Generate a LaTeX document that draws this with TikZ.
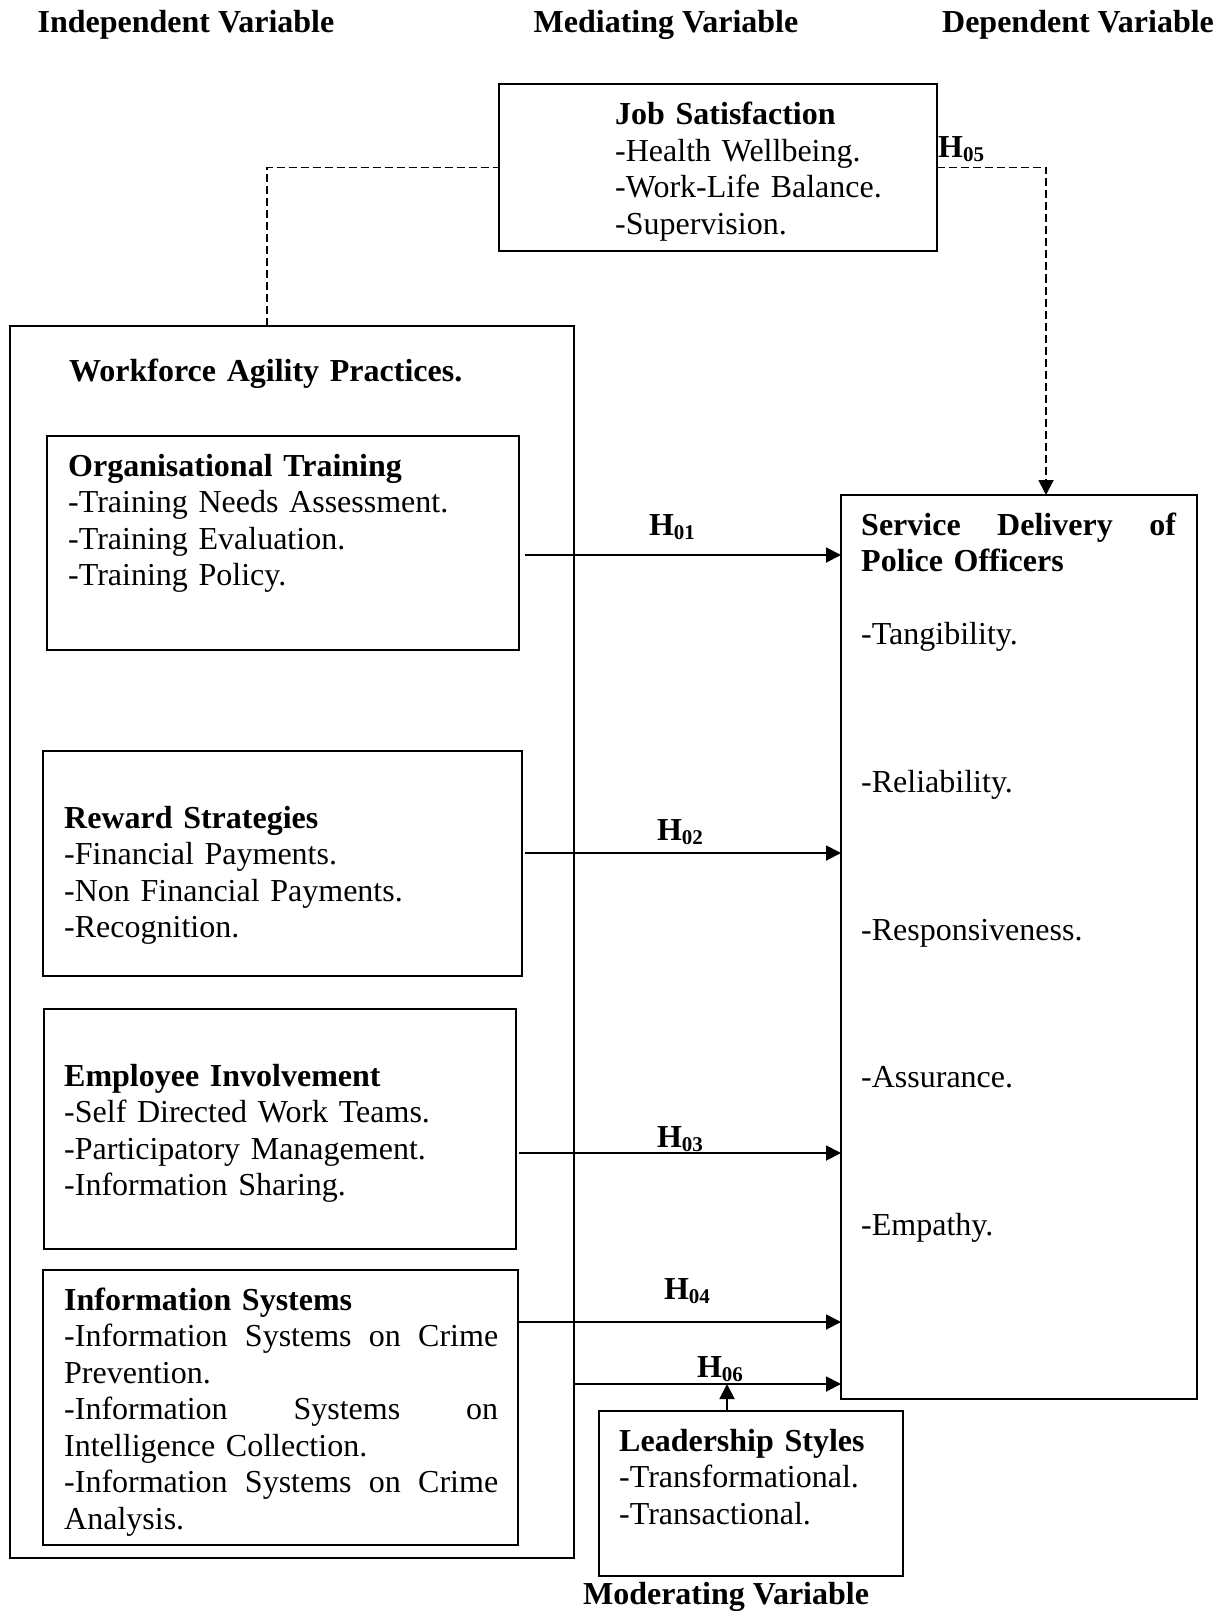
\documentclass[tikz,border=0pt]{standalone}
\usepackage{fontspec}
\setmainfont{Liberation Serif}
\usetikzlibrary{arrows.meta}

\newcommand{\hyp}[1]{\textbf{H\raisebox{-4pt}{\fontsize{21}{21}\selectfont #1}}}
\newcommand{\jline}[2]{\makebox[#1][s]{\spaceskip=0pt plus 1fil\relax #2}}

\begin{document}
\begin{tikzpicture}[x=1pt,y=-1pt,
  box/.style={draw,line width=1.7pt,anchor=north west,inner sep=0pt,outer sep=0pt},
  txt/.style={anchor=base west,inner sep=0pt,text width=440pt,font=\fontsize{32}{36.5}\selectfont},
  head/.style={anchor=base,inner sep=0pt,font=\fontsize{32}{36.5}\selectfont\bfseries},
  hlab/.style={anchor=base,inner sep=0pt,font=\fontsize{32}{36.5}\selectfont},
  arr/.style={line width=1.9pt,-{Triangle[length=15pt,width=15pt]}},
  dashln/.style={line width=1.9pt,dash pattern=on 8pt off 4pt}]
\useasboundingbox (0,0) rectangle (1225,1613);

% column headings
\node[head] (hInd) at (186,33) {Independent Variable};
\node[head] (hMed) at (666,33) {Mediating Variable};
\node[head] (hDep) at (1078,33) {Dependent Variable};
\node[head] (hMod) at (726,1604) {Moderating Variable};

% boxes
\node[box,minimum width=438pt,minimum height=167pt] (js) at (499,84) {};
\node[box,minimum width=564pt,minimum height=1232pt] (wap) at (10,326) {};
\node[box,minimum width=472pt,minimum height=214pt] (org) at (47,436) {};
\node[box,minimum width=479pt,minimum height=225pt] (rew) at (43,751) {};
\node[box,minimum width=472pt,minimum height=240pt] (emp) at (44,1009) {};
\node[box,minimum width=475pt,minimum height=275pt] (inf) at (43,1270) {};
\node[box,minimum width=356pt,minimum height=904pt] (sdp) at (841,495) {};
\node[box,minimum width=304pt,minimum height=165pt] (lead) at (599,1411) {};

% texts
\node[txt] (jsT) at (615,125) {\textbf{Job Satisfaction}\\-Health Wellbeing.\\-Work-Life Balance.\\-Supervision.};
\node[txt] (wapT) at (69,381) {\textbf{Workforce Agility Practices.}};
\node[txt] (orgT) at (68,476) {\textbf{Organisational Training}\\-Training Needs Assessment.\\-Training Evaluation.\\-Training Policy.};
\node[txt] (rewT) at (64,828) {\textbf{Reward Strategies}\\-Financial Payments.\\-Non Financial Payments.\\-Recognition.};
\node[txt] (empT) at (64,1086) {\textbf{Employee Involvement}\\-Self Directed Work Teams.\\-Participatory Management.\\-Information Sharing.};
\node[txt] (infT) at (64,1310) {\textbf{Information Systems}\\
  \jline{434pt}{-Information Systems on Crime}\\Prevention.\\
  \jline{434pt}{-Information Systems on}\\Intelligence Collection.\\
  \jline{434pt}{-Information Systems on Crime}\\Analysis.};
\node[txt] (sdpT) at (861,535) {\jline{315pt}{\textbf{Service Delivery of}}\\\textbf{Police Officers}\\[36.5pt]
  -Tangibility.\\[111pt]-Reliability.\\[112pt]-Responsiveness.\\[110pt]-Assurance.\\[112pt]-Empathy.};
\node[txt] (leadT) at (619,1451) {\textbf{Leadership Styles}\\-Transformational.\\-Transactional.};

% mediating path
\draw[dashln] ([xshift=-25pt]wap.north) |- (js.west);
\draw[dashln,arr] (js.east) -| ([xshift=27pt]sdp.north);
\node[hlab,anchor=base west] (h05) at (938,158) {\hyp{05}};

% direct paths
\coordinate (s01) at ([xshift=6pt,yshift=-12pt]org.east);
\coordinate (s02) at ([xshift=3pt,yshift=10.5pt]rew.east);
\coordinate (s03) at ([xshift=3pt,yshift=-24pt]emp.east);
\coordinate (s04) at ([xshift=1pt,yshift=85.5pt]inf.east);
\coordinate (s06) at ([yshift=-442pt]wap.east);
\coordinate (m06) at ([xshift=-24pt]lead.north);
\draw[arr] (s01) -- (s01 -| sdp.west);
\draw[arr] (s02) -- (s02 -| sdp.west);
\draw[arr] (s03) -- (s03 -| sdp.west);
\draw[arr] (s04) -- (s04 -| sdp.west);
\draw[arr] (s06) -- (s06 -| sdp.west);
\draw[arr] (m06) -- (m06 |- s06);
\node[hlab] (h01) at (672,535) {\hyp{01}};
\node[hlab] (h02) at (680,840) {\hyp{02}};
\node[hlab] (h03) at (680,1147) {\hyp{03}};
\node[hlab] (h04) at (687,1299) {\hyp{04}};
\node[hlab] (h06) at (720,1377) {\hyp{06}};
\end{tikzpicture}
\end{document}
